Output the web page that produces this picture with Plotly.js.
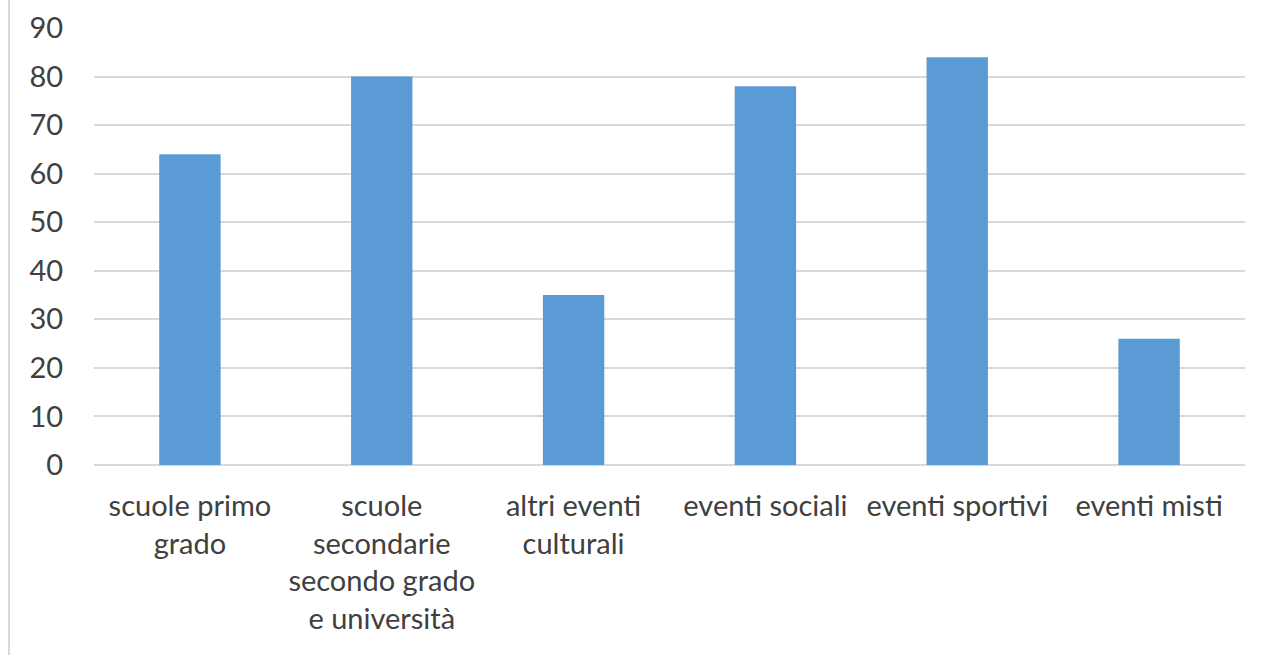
<!DOCTYPE html>
<html>
<head>
<meta charset="utf-8">
<script src="https://cdn.plot.ly/plotly-3.0.1.min.js"></script>
<style>
html, body { margin: 0; padding: 0; background: #fff; }
#wrap { position: relative; width: 1272px; height: 655px; }
#chart { width: 1272px; height: 655px; }
#border { position: absolute; left: 8px; top: 0; width: 2px; height: 655px; background: #d9d9d9; z-index: 10; }
</style>
</head>
<body>
<div id="wrap">
<div id="chart"></div>
<div id="border"></div>
</div>
<script>
const categories = [
  "scuole primo<br>grado",
  "scuole<br>secondarie<br>secondo grado<br>e università",
  "altri eventi<br>culturali",
  "eventi sociali",
  "eventi sportivi",
  "eventi misti"
];
const values = [64, 80, 35, 78, 84, 26];
const yTicks = [0, 10, 20, 30, 40, 50, 60, 70, 80, 90];

const trace = {
  type: "bar",
  x: categories,
  y: values,
  marker: { color: "#5B9BD5" },
  hoverinfo: "x+y"
};

const layout = {
  width: 1272,
  height: 655,
  margin: { l: 94, r: 27, t: 28, b: 190 },
  paper_bgcolor: "#ffffff",
  plot_bgcolor: "#ffffff",
  bargap: 0.68,
  showlegend: false,
  font: { family: "Lato, 'Open Sans', sans-serif", size: 29, color: "#404040" },
  xaxis: {
    type: "category",
    showgrid: false,
    showline: false,
    zeroline: false,
    ticks: "outside",
    ticklen: 15,
    tickcolor: "rgba(0,0,0,0)",
    tickfont: { size: 29, color: "#404040" },
    tickangle: 0,
    automargin: false
  },
  yaxis: {
    range: [0, 90],
    tickvals: yTicks,
    ticktext: yTicks.map(String),
    showgrid: true,
    gridcolor: "#d9d9d9",
    gridwidth: 2,
    zeroline: true,
    zerolinecolor: "#d9d9d9",
    zerolinewidth: 2,
    showline: false,
    ticks: "outside",
    ticklen: 24,
    tickcolor: "rgba(0,0,0,0)",
    tickfont: { size: 29, color: "#404040" },
    automargin: false
  }
};

Plotly.newPlot("chart", [trace], layout, { displayModeBar: false, staticPlot: true });
</script>
</body>
</html>
